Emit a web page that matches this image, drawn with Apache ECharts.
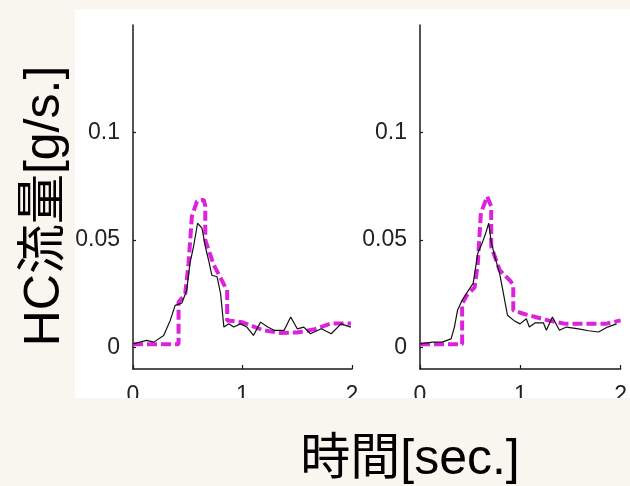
<!DOCTYPE html>
<html><head><meta charset="utf-8">
<script src="https://cdn.jsdelivr.net/npm/echarts@6/dist/echarts.min.js"></script>
<style>html,body{margin:0;padding:0;background:#f9f5ef;}#c{width:630px;height:486px;}</style>
</head><body><div id="c"></div>
<script>
// Data (time [s], HC flow [g/s])
const yTicks = [0, 0.05, 0.1];
const xTicks = [0, 1, 2];
const leftMeasT = [0,0.125,0.19,0.28,0.34,0.385,0.447,0.49,0.52,0.553,0.59,0.63,0.66,0.69,0.72,0.768,0.80,0.83,0.875,0.92,0.98,1.04,1.10,1.165,1.23,1.29,1.38,1.44,1.50,1.56,1.62,1.72,1.81,1.90,1.99];
const leftMeasV = [0.0017,0.0033,0.0025,0.0056,0.0126,0.0196,0.0207,0.0266,0.039,0.047,0.0578,0.0555,0.047,0.0407,0.0336,0.0329,0.025,0.0095,0.011,0.0095,0.011,0.0095,0.0056,0.0118,0.0095,0.008,0.008,0.0142,0.0087,0.0095,0.0064,0.0087,0.0064,0.011,0.0095];
const leftModelT = [0,0.416,0.416,0.477,0.507,0.538,0.584,0.645,0.66,0.66,0.737,0.844,0.86,0.86,1.0,1.19,1.34,1.5,1.66,1.81,1.99];
const leftModelV = [0.0015,0.0015,0.021,0.025,0.039,0.061,0.068,0.0687,0.066,0.05,0.0385,0.028,0.027,0.0126,0.0117,0.008,0.0068,0.007,0.0085,0.0112,0.0112];
const rightMeasT = [0,0.125,0.22,0.31,0.343,0.374,0.42,0.483,0.53,0.576,0.623,0.654,0.685,0.71,0.748,0.794,0.826,0.872,0.935,0.997,1.06,1.09,1.15,1.23,1.26,1.32,1.39,1.46,1.58,1.68,1.78,1.87,1.96];
const rightMeasV = [0.0017,0.0025,0.0025,0.004,0.0095,0.0173,0.022,0.0266,0.0298,0.0438,0.049,0.053,0.0578,0.049,0.042,0.0344,0.0266,0.015,0.0126,0.011,0.0134,0.0095,0.0115,0.0115,0.008,0.0142,0.008,0.0095,0.0087,0.0078,0.0072,0.0095,0.011];
const rightModelT = [0,0.42,0.42,0.467,0.545,0.576,0.607,0.67,0.71,0.71,0.794,0.9,0.93,0.93,1.03,1.15,1.28,1.45,1.65,1.85,2.0];
const rightModelV = [0.0015,0.0015,0.0204,0.0243,0.028,0.039,0.0625,0.0702,0.0656,0.047,0.036,0.031,0.029,0.0173,0.0157,0.0142,0.0126,0.011,0.011,0.011,0.0126];
const yTitle = 'HC流量[g/s.]';
const xTitle = '時間[sec.]';

const zip = (a, b) => a.map((t, i) => [t, b[i]]);
const tickFont = 'Liberation Sans, Arial, sans-serif';
const titleFont = '"Liberation Sans", "Noto Sans CJK JP", sans-serif';
const beige = '#f9f5ef';

function xAxis(i) {
  return {
    type: 'value', gridIndex: i, min: 0, max: 2, interval: 1,
    axisLine: { show: true, onZero: false, lineStyle: { color: '#1a1a1a', width: 1.5 } },
    axisTick: { show: true, inside: true, length: 4, lineStyle: { color: '#1a1a1a', width: 1.2 } },
    axisLabel: { show: true, margin: 15, color: '#222', fontFamily: tickFont, fontSize: 23,
                 customValues: xTicks, verticalAlign: 'top' },
    splitLine: { show: false }
  };
}
function yAxis(i) {
  return {
    type: 'value', gridIndex: i, min: -0.01, max: 0.15,
    axisLine: { show: true, onZero: false, lineStyle: { color: '#1a1a1a', width: 1.5 } },
    axisTick: { show: true, inside: true, length: 3, customValues: yTicks, lineStyle: { color: '#1a1a1a', width: 1.2 } },
    axisLabel: { show: true, margin: 13, color: '#222', fontFamily: tickFont, fontSize: 23,
                 customValues: yTicks, formatter: v => String(+v.toFixed(2)) },
    splitLine: { show: false }
  };
}
function series(i, t, v, model) {
  return {
    type: 'line', xAxisIndex: i, yAxisIndex: i, data: zip(t, v), symbol: 'none',
    animation: false, z: model ? 2 : 3,
    lineStyle: model ? { color: '#dd22dd', width: 4, type: [10, 4] } : { color: '#111', width: 1.2 }
  };
}

const chart = echarts.init(document.getElementById('c'), null, { renderer: 'canvas' });
chart.setOption({
  backgroundColor: beige,
  animation: false,
  grid: [
    { left: 133, top: 25, width: 219, height: 344 },
    { left: 420, top: 25, width: 214, height: 344 }
  ],
  xAxis: [xAxis(0), xAxis(1)],
  yAxis: [yAxis(0), yAxis(1)],
  series: [
    series(0, leftModelT, leftModelV, true),
    series(0, leftMeasT, leftMeasV, false),
    series(1, rightModelT, rightModelV, true),
    series(1, rightMeasT, rightMeasV, false)
  ],
  graphic: [
    { type: 'rect', z: -10, silent: true, shape: { x: 75, y: 9, width: 560, height: 389 }, style: { fill: '#ffffff' } },
    { type: 'rect', z: 100, silent: true, shape: { x: 0, y: 398, width: 630, height: 88 }, style: { fill: beige } },
    { type: 'text', z: 101, x: 410, y: 460, style: { text: xTitle, font: '50px ' + titleFont, fill: '#000', align: 'center', verticalAlign: 'middle' } },
    { type: 'text', z: 101, x: 45, y: 206, rotation: Math.PI / 2, style: { text: yTitle, font: '50px ' + titleFont, fill: '#000', align: 'center', verticalAlign: 'middle' } }
  ]
});
</script></body></html>
